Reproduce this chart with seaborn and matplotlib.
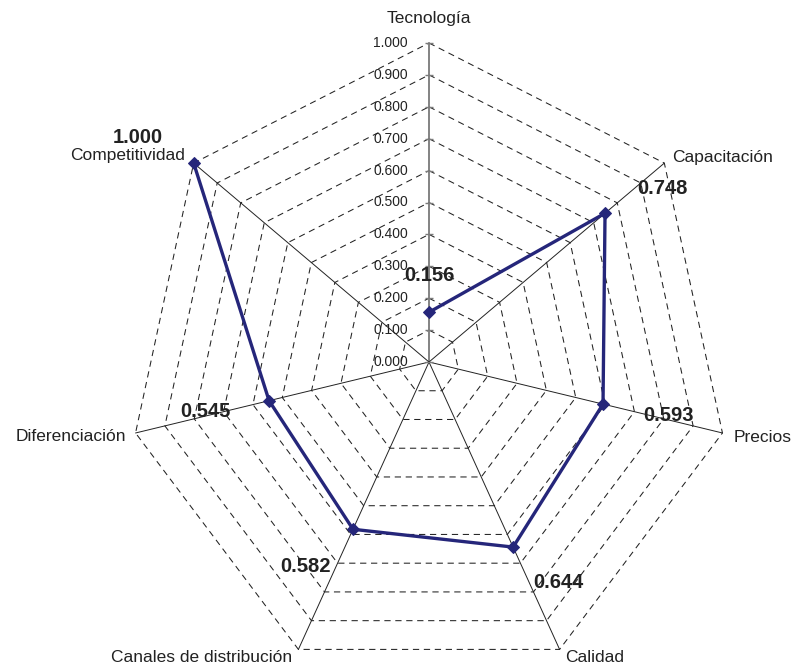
import numpy as np
import pandas as pd
import matplotlib
matplotlib.use("Agg")
import matplotlib.pyplot as plt
import seaborn as sns

# ---- data ----
categories = ["Tecnología", "Capacitación", "Precios", "Calidad",
              "Canales de distribución", "Diferenciación", "Competitividad"]
values = [0.156, 0.748, 0.593, 0.644, 0.582, 0.545, 1.000]
value_labels = ["0.156", "0.748", "0.593", "0.644", "0.582", "0.545", "1.000"]
grid_levels = [0.1, 0.2, 0.3, 0.4, 0.5, 0.6, 0.7, 0.8, 0.9, 1.0]
tick_levels = [0.0, 0.1, 0.2, 0.3, 0.4, 0.5, 0.6, 0.7, 0.8, 0.9, 1.0]
tick_labels = ["0.000", "0.100", "0.200", "0.300", "0.400", "0.500",
               "0.600", "0.700", "0.800", "0.900", "1.000"]

# ---- styling / layout (pixels) ----
value_offsets = [(0, 37), (57, 25), (65, -11), (45, -35), (-47, -37), (-64, -11), (-56, 26)]
cat_offsets = [(0, 25), (8, 6), (11, -5), (6, -8), (-6, -8), (-9, -4), (-9, 8)]
cat_ha = ["center", "left", "left", "left", "right", "right", "right"]
line_color = "#25267a"

sns.set_style("white")
plt.rcParams["font.family"] = ["Liberation Sans", "DejaVu Sans"]

W, H = 795, 666
cx, cy = 429, 362        # centre in pixels (from top-left)
rx, ry = 301, 319        # radius in pixels

fig = plt.figure(figsize=(W / 100, H / 100), dpi=100)
ax = fig.add_axes([0, 0, 1, 1])
ax.set_xlim(-cx / rx, (W - cx) / rx)
ax.set_ylim(-(H - cy) / ry, cy / ry)
ax.axis("off")

n = len(categories)
theta = np.arange(n) * 2 * np.pi / n
ux, uy = np.sin(theta), np.cos(theta)

# grid polygons
for lv in grid_levels:
    gx = np.append(ux * lv, ux[0] * lv)
    gy = np.append(uy * lv, uy[0] * lv)
    ax.plot(gx, gy, color="#222222", lw=0.75, ls=(0, (6, 4.5)), zorder=1)

# spokes
for k in range(n):
    if k == 0:
        ax.plot([0, 0], [0, 1], color="#7a7a7a", lw=1.3, zorder=2)
    else:
        ax.plot([0, ux[k]], [0, uy[k]], color="#222222", lw=0.7, zorder=2)

# ticks + tick labels on top axis
ax.plot(np.zeros(len(tick_levels)), tick_levels, ls="none", marker="_",
        ms=6, mew=1.0, color="#7a7a7a", zorder=2)
for lv, lab in zip(tick_levels, tick_labels):
    ax.annotate(lab, (0, lv), xytext=(-21, 0), textcoords="offset pixels",
                ha="right", va="center", fontsize=10, color="#222222")

# data polygon
df = pd.DataFrame({"x": np.append(ux * values, ux[0] * values[0]),
                   "y": np.append(uy * values, uy[0] * values[0])})
sns.lineplot(data=df, x="x", y="y", sort=False, ax=ax, color=line_color,
             lw=2.4, marker="D", markersize=6.5, markeredgecolor=line_color,
             zorder=4)

# value labels
for k in range(n):
    ax.annotate(value_labels[k], (ux[k] * values[k], uy[k] * values[k]),
                xytext=value_offsets[k], textcoords="offset pixels",
                ha="center", va="center", fontsize=14.5, fontweight="bold",
                color="#222222", zorder=5)

# category labels
for k in range(n):
    ax.annotate(categories[k], (ux[k], uy[k]), xytext=cat_offsets[k],
                textcoords="offset pixels", ha=cat_ha[k], va="center",
                fontsize=12.5, color="#222222")

fig.savefig("out.png", dpi=100)
